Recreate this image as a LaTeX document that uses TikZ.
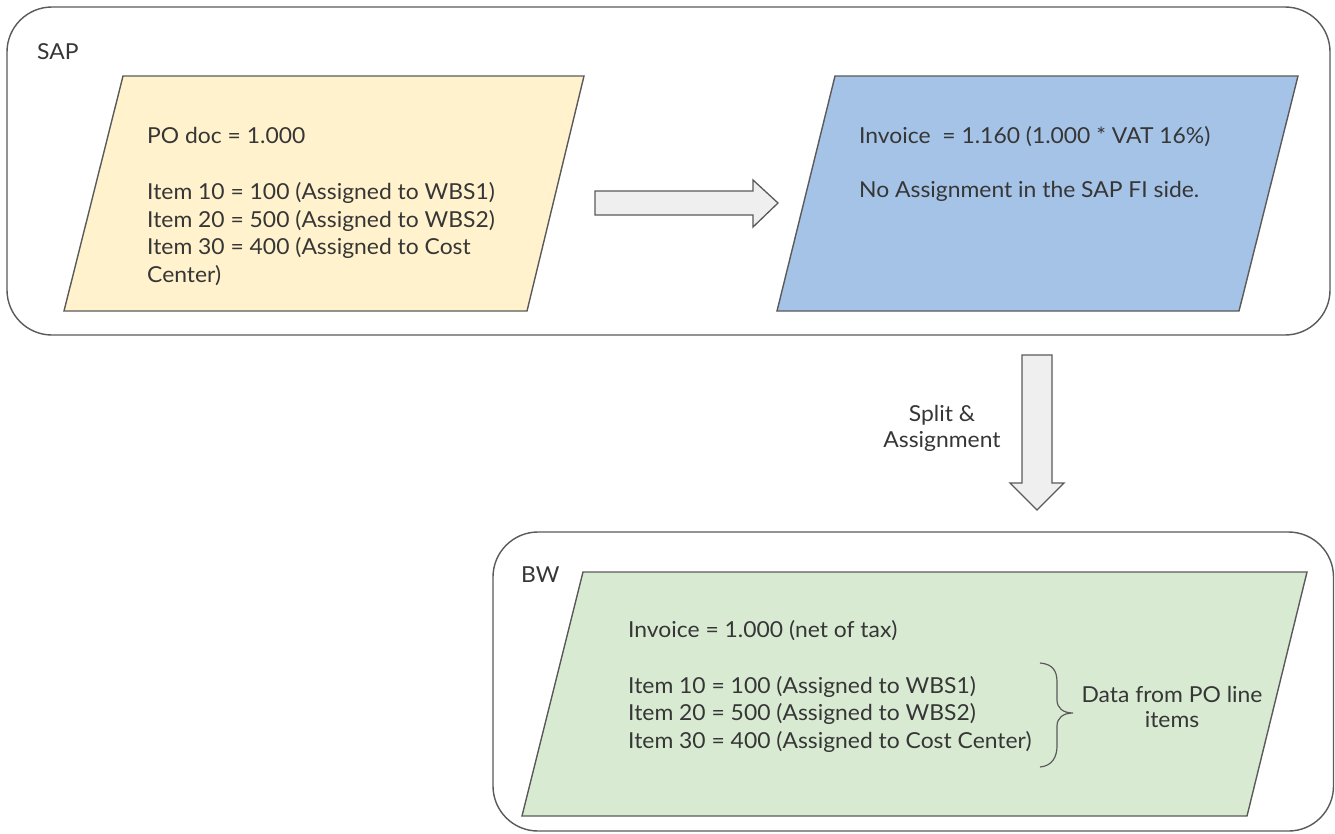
\documentclass[tikz,border=0pt]{standalone}
\usepackage{fontspec}
\setmainfont{Lato}[FakeStretch=1.04]
\usetikzlibrary{calc}
\definecolor{txt}{HTML}{363636}
\definecolor{edge}{HTML}{5A5A5A}
\definecolor{yellowfill}{HTML}{FFF2CC}
\definecolor{bluefill}{HTML}{A4C3E6}
\definecolor{greenfill}{HTML}{D9EAD3}
\definecolor{arrowfill}{HTML}{EFEFEF}
\tikzset{
  container/.style={draw=edge, line width=1.4pt, rounded corners=45pt},
  para/.style={draw=edge, line width=1.4pt, line join=miter},
  blockarrow/.style={draw=edge, fill=arrowfill, line width=1.3pt, line join=miter},
  lbl/.style={anchor=base west, inner sep=0pt, text=txt},
  clbl/.style={align=center, inner sep=0pt, text=txt},
}
\begin{document}
\begin{tikzpicture}[x=1pt, y=-1pt, font=\fontsize{22}{27}\selectfont]
\useasboundingbox (0,0) rectangle (1335,833);
\fill[white] (0,0) rectangle (1335,833);

% containers
\draw[container] (7,7) rectangle (1330,335);
\draw[container] (493,532) rectangle (1333.5,831);
\node[lbl] (sap) at (37,59) {SAP};
\node[lbl] (bw) at (521,582) {BW};

% yellow PO document
\draw[para, fill=yellowfill] (123,76) -- (584,76) -- (527,311) -- (64,311) -- cycle;
\node[lbl] (po) at (147,143) {PO doc = 1.000};
\node[lbl] (po1) at (147,199) {Item 10 = 100 (Assigned to WBS1)};
\node[lbl] (po2) at (147,227) {Item 20 = 500 (Assigned to WBS2)};
\node[lbl] (po3) at (147,254) {Item 30 = 400 (Assigned to Cost};
\node[lbl] (po4) at (147,282) {Center)};

% blue invoice
\draw[para, fill=bluefill] (835,76) -- (1298,76) -- (1239,311) -- (777,311) -- cycle;
\node[lbl] (inv) at (859,143) {Invoice\ \ = 1.160 (1.000 * VAT 16\%)};
\node[lbl] (inv2) at (859,197) {No Assignment in the SAP FI side.};

% horizontal block arrow
\coordinate (ha) at (595,203);
\coordinate (hb) at (778,203);
\draw[blockarrow] ($(ha)+(0,-12)$) -- ($(hb)+(-25,-12)$) -- ($(hb)+(-25,-23)$) -- (hb)
  -- ($(hb)+(-25,24)$) -- ($(hb)+(-25,12)$) -- ($(ha)+(0,12)$) -- cycle;

% vertical block arrow
\coordinate (va) at (1037,355);
\coordinate (vb) at (1037,510);
\draw[blockarrow] ($(va)+(-15,0)$) -- ($(va)+(15,0)$) -- ($(vb)+(15,-27)$) -- ($(vb)+(27,-27)$)
  -- (vb) -- ($(vb)+(-27,-27)$) -- ($(vb)+(-15,-27)$) -- cycle;
\node[clbl, font=\fontsize{22}{26}\selectfont] (split) at (942,428) {Split \&\\Assignment};

% green BW invoice
\draw[para, fill=greenfill] (583,572) -- (1307,572) -- (1247,816) -- (522,816) -- cycle;
\node[lbl] (bwi) at (628,637) {Invoice = 1.000 (net of tax)};
\node[lbl] (bw1) at (628,693) {Item 10 = 100 (Assigned to WBS1)};
\node[lbl] (bw2) at (628,720) {Item 20 = 500 (Assigned to WBS2)};
\node[lbl] (bw3) at (628,748) {Item 30 = 400 (Assigned to Cost Center)};

% brace
\coordinate (btop) at (1040,663);
\coordinate (btip) at (1073,713);
\coordinate (bbot) at (1040,767);
\draw[edge, line width=1.2pt] (btop) .. controls (1052,664) and (1057,670) .. (1057,682)
  -- (1057,700) .. controls (1057,708) and (1063,713) .. (btip)
  .. controls (1063,713) and (1057,718) .. (1057,726)
  -- (1057,746) .. controls (1057,757) and (1052,766) .. (bbot);
\node[clbl, font=\fontsize{22}{25}\selectfont, anchor=north] (data) at (1172,686) {Data from PO line\\items};
\end{tikzpicture}
\end{document}
